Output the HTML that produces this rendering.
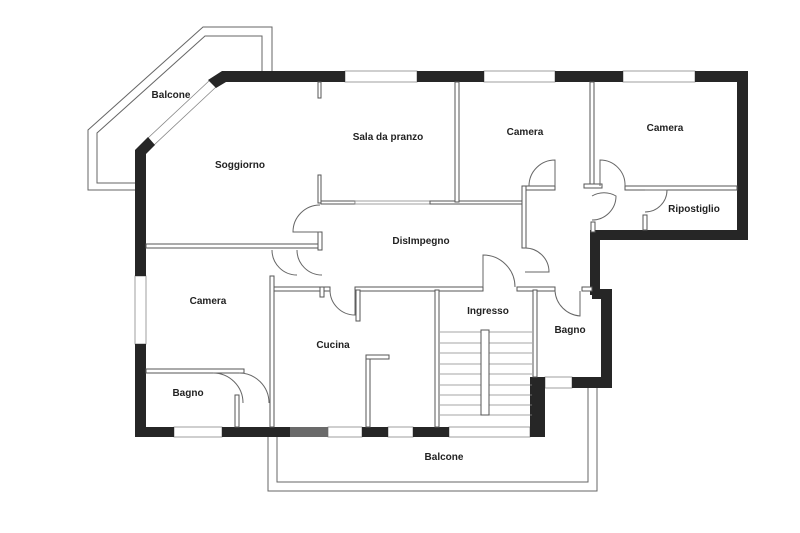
<!DOCTYPE html>
<html><head><meta charset="utf-8"><style>
html,body{margin:0;padding:0;background:#fff;width:800px;height:533px;overflow:hidden}
svg{display:block}
text{font-family:"Liberation Sans",sans-serif;font-size:10px;fill:#222;text-anchor:middle;font-weight:bold}
.w{fill:#262626}
.t{fill:#fff;stroke:#555;stroke-width:1}
.l{fill:none;stroke:#666;stroke-width:1}
.win{fill:#fff;stroke:#888;stroke-width:0.8}
</style></head><body>
<svg width="800" height="533" viewBox="0 0 800 533">
<!-- balcony top-left -->
<polyline class="l" points="135,190 88,190 88,130 203,27 272,27 272,71"/>
<polyline class="l" points="135,183 97,183 97,133 205,36 262,36 262,71"/>
<!-- balcony bottom -->
<polyline class="l" points="268,437 268,491 597,491 597,388"/>
<polyline class="l" points="277,437 277,482 588,482 588,388"/>

<!-- windows (outer) -->
<rect class="win" x="345" y="71" width="72" height="11"/>
<rect class="win" x="484" y="71" width="71" height="11"/>
<rect class="win" x="623" y="71" width="72" height="11"/>
<rect class="win" x="135" y="276" width="11" height="68"/>
<rect class="win" x="174" y="427" width="48" height="10"/>
<rect class="win" x="328" y="427" width="34" height="10"/>
<rect class="win" x="388" y="427" width="25" height="10"/>
<rect class="win" x="449" y="427" width="81" height="10"/>
<rect class="win" x="545" y="377" width="27" height="11"/>
<polygon class="win" points="210,80 148,138 154,145 216,87"/>

<!-- exterior walls -->
<polygon class="w" points="222,71 345,71 345,82 226,82 216,88 208,80"/>
<rect class="w" x="417" y="71" width="67" height="11"/>
<rect class="w" x="555" y="71" width="68" height="11"/>
<rect class="w" x="695" y="71" width="53" height="11"/>
<rect class="w" x="737" y="71" width="11" height="169"/>
<rect class="w" x="590" y="230" width="158" height="10"/>
<rect class="w" x="590" y="230" width="10" height="65"/>
<rect class="w" x="592" y="289" width="20" height="10"/>
<rect class="w" x="601" y="289" width="11" height="99"/>
<rect class="w" x="572" y="377" width="40" height="11"/>
<rect class="w" x="530" y="377" width="15" height="60"/>
<polygon class="w" points="135,150 148,137 155,145 146,154 146,276 135,276"/>
<rect class="w" x="135" y="344" width="11" height="93"/>
<rect class="w" x="135" y="427" width="39" height="10"/>
<rect class="w" x="222" y="427" width="70" height="10"/>
<rect x="290" y="427" width="38" height="10" fill="#6a6a6a"/>
<rect class="w" x="362" y="427" width="26" height="10"/>
<rect class="w" x="413" y="427" width="36" height="10"/>

<!-- interior walls -->
<rect class="t" x="318" y="82" width="3" height="16"/>
<rect class="t" x="318" y="175" width="3" height="28"/>
<rect class="t" x="321" y="201" width="34" height="3"/>
<rect class="win" x="355" y="201" width="75" height="3"/>
<rect class="t" x="430" y="201" width="95" height="3"/>
<rect class="t" x="455" y="82" width="4" height="120"/>
<rect class="t" x="590" y="82" width="4" height="104"/>
<rect class="t" x="146" y="244" width="174" height="4"/>
<rect class="t" x="318" y="232" width="4" height="18"/>
<rect class="t" x="522" y="186" width="33" height="4"/>
<rect class="t" x="625" y="186" width="112" height="4"/>
<rect class="t" x="522" y="186" width="4" height="62"/>
<rect class="t" x="643" y="215" width="4" height="15"/>
<rect class="t" x="584" y="184" width="18" height="4"/>
<rect class="t" x="591" y="222" width="4" height="10"/>
<rect class="t" x="273" y="287" width="57" height="4"/>
<rect class="t" x="355" y="287" width="128" height="4"/>
<rect class="t" x="517" y="287" width="38" height="4"/>
<rect class="t" x="582" y="287" width="10" height="4"/>
<rect class="t" x="270" y="276" width="4" height="151"/>
<rect class="t" x="146" y="369" width="98" height="4"/>
<rect class="t" x="235" y="395" width="4" height="32"/>
<rect class="t" x="435" y="290" width="4" height="137"/>
<rect class="t" x="356" y="290" width="4" height="31"/>
<rect class="t" x="366" y="355" width="4" height="72"/>
<rect class="t" x="366" y="355" width="23" height="4"/>
<rect class="t" x="533" y="290" width="4" height="87"/>
<rect class="t" x="320" y="287" width="4" height="10"/>

<!-- stairs -->
<g stroke="#888" stroke-width="0.8">
<line x1="440" y1="332" x2="532" y2="332"/><line x1="440" y1="343" x2="532" y2="343"/>
<line x1="440" y1="353" x2="532" y2="353"/><line x1="440" y1="364" x2="532" y2="364"/>
<line x1="440" y1="374" x2="532" y2="374"/><line x1="440" y1="385" x2="532" y2="385"/>
<line x1="440" y1="395" x2="532" y2="395"/><line x1="440" y1="405" x2="532" y2="405"/>
<line x1="440" y1="415" x2="532" y2="415"/>
</g>
<rect class="t" x="481" y="330" width="8" height="85"/>

<!-- doors -->
<g class="l">
<path d="M320 205 A27 27 0 0 0 293 232 L320 232"/>
<path d="M272 250 A25 25 0 0 0 297 275"/>
<path d="M297 250 A25 25 0 0 0 322 275"/>
<path d="M330 290 A25 25 0 0 0 355 315 L355 290"/>
<path d="M483 287 L483 255 A32 32 0 0 1 515 287"/>
<path d="M525 248 A24 24 0 0 1 549 272 L525 272"/>
<path d="M555 186 L555 160 A26 26 0 0 0 529 186"/>
<path d="M600 186 L600 160 A25 25 0 0 1 625 186"/>
<path d="M592 196 A24 24 0 0 1 616 196 A24 24 0 0 1 592 220"/>
<path d="M645 190 L667 190 A22 22 0 0 1 645 212"/>
<path d="M555 291 A27 27 0 0 0 580 316 L580 291"/>
<path d="M213 373 A30 30 0 0 1 243 403"/>
<path d="M239 373 A30 30 0 0 1 269 403"/>
</g>

<!-- labels -->
<text x="171" y="98">Balcone</text>
<text x="388" y="140">Sala da pranzo</text>
<text x="240" y="168">Soggiorno</text>
<text x="525" y="135">Camera</text>
<text x="665" y="131">Camera</text>
<text x="694" y="212">Ripostiglio</text>
<text x="421" y="244">DisImpegno</text>
<text x="208" y="304">Camera</text>
<text x="488" y="314">Ingresso</text>
<text x="333" y="348">Cucina</text>
<text x="570" y="333">Bagno</text>
<text x="188" y="396">Bagno</text>
<text x="444" y="460">Balcone</text>
</svg>
</body></html>
